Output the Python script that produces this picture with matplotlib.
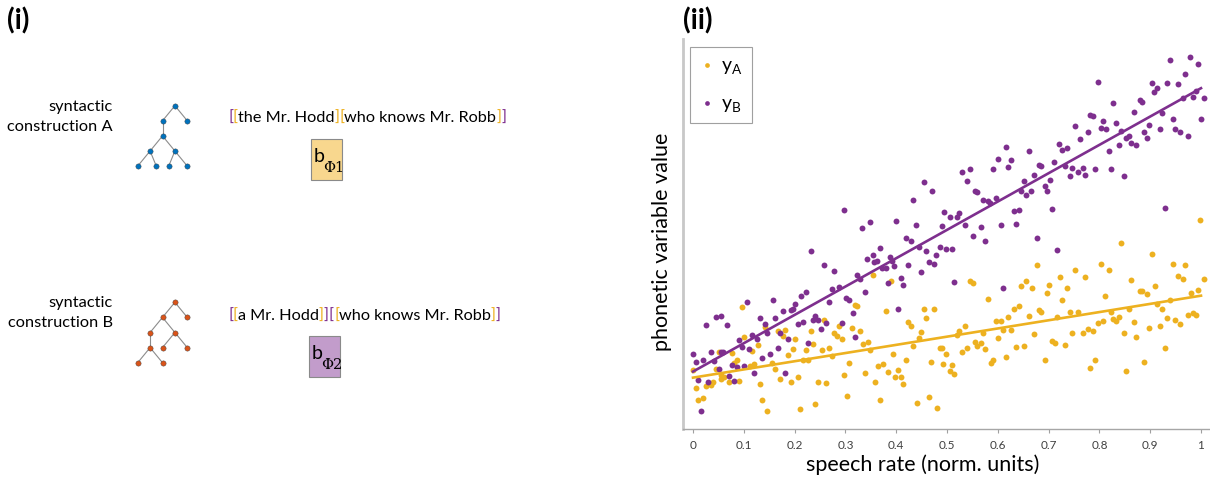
import numpy as np
import matplotlib.pyplot as plt
from matplotlib.offsetbox import TextArea, HPacker, AnnotationBbox
from matplotlib.patches import Rectangle

plt.rcParams['font.family'] = ['Lato', 'DejaVu Sans']
plt.rcParams['mathtext.fontset'] = 'custom'
plt.rcParams['mathtext.rm'] = 'Lato'

PURPLE = '#7E2F8E'
YELLOW = '#EDB120'
BLUE = '#0072BD'
ORANGE = '#D95319'

# speech rate / phonetic value pairs, construction A
rate_a = [0.096, 0.101, 0.142, 0.181, 0.168, 0.177, 0.201, 0.232, 0.236, 0.127, 0.117, 0.051, 0.076, 0.197,
          0.222, 0.187, 0.086, 0.080, 0.120, 0.112, 0.156, 0.162, 0.217, 0.227, 0.000, 0.046, 0.056, 0.062,
          0.056, 0.071, 0.091, 0.040, 0.035, 0.025, 0.005, 0.132, 0.172, 0.192, 0.207, 0.010, 0.020, 0.136,
          0.146, 0.211, 0.240,
          0.354, 0.389, 0.319, 0.323, 0.379, 0.454, 0.474, 0.459, 0.424, 0.429, 0.257, 0.288, 0.278, 0.283,
          0.293, 0.313, 0.328, 0.334, 0.344, 0.449, 0.444, 0.434, 0.486, 0.490, 0.268, 0.253, 0.273, 0.349,
          0.394, 0.419, 0.469, 0.493, 0.308, 0.364, 0.374, 0.384, 0.404, 0.398, 0.409, 0.414, 0.338, 0.298,
          0.358, 0.247, 0.262, 0.303, 0.369, 0.440, 0.465, 0.480,
          0.677, 0.752, 0.722, 0.656, 0.646, 0.667, 0.701, 0.697, 0.737, 0.727, 0.545, 0.551, 0.580, 0.641,
          0.631, 0.682, 0.686, 0.661, 0.621, 0.596, 0.606, 0.717, 0.742, 0.757, 0.535, 0.524, 0.520, 0.571,
          0.611, 0.626, 0.671, 0.747, 0.601, 0.555, 0.566, 0.560, 0.540, 0.530, 0.575, 0.636, 0.651, 0.707,
          0.712, 0.732, 0.499, 0.510, 0.505, 0.514, 0.586, 0.591, 0.616, 0.692,
          0.999, 0.843, 0.904, 0.803, 0.818, 0.772, 0.944, 0.969, 0.954, 0.964, 1.005, 0.863, 0.909, 0.879,
          0.884, 0.894, 0.980, 0.994, 0.812, 0.939, 0.914, 0.858, 0.924, 0.823, 0.838, 0.827, 0.833, 0.869,
          0.797, 0.808, 0.934, 0.949, 0.959, 0.974, 0.985, 0.990, 0.898, 0.919, 0.778, 0.787, 0.767, 0.848,
          0.873, 0.929, 0.792, 0.782, 0.888, 0.853]
val_a = [1.22, 0.92, 1.02, 0.99, 0.98, 0.93, 0.90, 0.98, 0.85, 0.84, 0.78, 0.77, 0.76, 0.80,
         0.79, 0.74, 0.69, 0.66, 0.65, 0.63, 0.66, 0.60, 0.69, 0.69, 0.59, 0.60, 0.54, 0.52,
         0.50, 0.47, 0.48, 0.47, 0.44, 0.43, 0.41, 0.45, 0.50, 0.47, 0.52, 0.29, 0.31, 0.29,
         0.18, 0.20, 0.25,
         1.54, 1.48, 1.24, 1.23, 1.18, 1.20, 1.20, 1.11, 1.07, 1.03, 1.09, 1.03, 0.96, 0.93,
         0.90, 1.01, 0.98, 0.85, 0.87, 0.97, 0.91, 0.83, 0.81, 0.81, 0.81, 0.79, 0.73, 0.79,
         0.75, 0.69, 0.67, 0.65, 0.66, 0.63, 0.65, 0.57, 0.59, 0.52, 0.52, 0.45, 0.56, 0.54,
         0.47, 0.47, 0.46, 0.33, 0.29, 0.26, 0.32, 0.21,
         1.64, 1.59, 1.52, 1.48, 1.43, 1.41, 1.44, 1.36, 1.41, 1.29, 1.48, 1.46, 1.30, 1.23,
         1.20, 1.19, 1.17, 1.13, 1.12, 1.08, 1.08, 1.12, 1.17, 1.17, 1.03, 0.98, 0.94, 0.96,
         0.99, 0.99, 0.95, 0.96, 0.91, 0.87, 0.86, 0.83, 0.81, 0.77, 0.80, 0.82, 0.83, 0.88,
         0.86, 0.84, 0.75, 0.64, 0.58, 0.55, 0.66, 0.69, 0.72, 0.69,
         2.09, 1.86, 1.75, 1.65, 1.59, 1.52, 1.65, 1.64, 1.53, 1.50, 1.50, 1.49, 1.43, 1.38,
         1.38, 1.35, 1.36, 1.39, 1.33, 1.29, 1.25, 1.20, 1.20, 1.17, 1.12, 1.10, 1.08, 1.07,
         1.06, 1.08, 1.11, 1.09, 1.05, 1.14, 1.16, 1.14, 1.01, 1.03, 1.00, 0.98, 0.96, 0.96,
         0.92, 0.81, 0.69, 0.61, 0.67, 0.58]

# speech rate / phonetic value pairs, construction B
rate_b = [0.454, 0.470, 0.434, 0.298, 0.333, 0.348, 0.399, 0.439,
          0.979, 0.939, 0.994, 0.969, 0.798, 0.904, 0.934, 0.954, 0.913, 0.908, 0.990, 0.965, 0.984, 1.005,
          0.879, 0.883, 0.827, 0.868, 0.924, 0.782, 0.788, 0.807, 0.944, 1.000, 0.833, 0.752, 0.803, 0.813,
          0.778, 0.898, 0.919, 0.949, 0.959, 0.974, 0.888, 0.894, 0.843, 0.762, 0.858, 0.852, 0.863, 0.873,
          0.838, 0.818, 0.616, 0.661, 0.721, 0.727, 0.737, 0.600, 0.626, 0.621, 0.591, 0.545, 0.530, 0.540,
          0.681, 0.686, 0.711, 0.732, 0.747, 0.767, 0.757, 0.772, 0.742, 0.792, 0.823, 0.848, 0.671, 0.702,
          0.692, 0.697, 0.651, 0.646, 0.666, 0.656, 0.555, 0.560, 0.596,
          0.570, 0.580, 0.585, 0.495, 0.505, 0.520, 0.524, 0.490, 0.535, 0.566, 0.551, 0.575, 0.606, 0.631,
          0.641, 0.636, 0.677, 0.707, 0.717, 0.929, 0.486, 0.499, 0.510, 0.514, 0.611,
          0.419, 0.429, 0.444, 0.459, 0.479, 0.465, 0.474, 0.424, 0.449, 0.395, 0.409, 0.413, 0.383, 0.403,
          0.388, 0.392, 0.369, 0.362, 0.357, 0.354, 0.343, 0.372, 0.379, 0.323, 0.329, 0.339, 0.232, 0.257,
          0.278, 0.273, 0.288, 0.268, 0.302, 0.308, 0.314, 0.293, 0.222, 0.212, 0.201, 0.192, 0.197, 0.157,
          0.177, 0.161, 0.131, 0.141, 0.146, 0.171, 0.187, 0.207, 0.217, 0.241, 0.236, 0.247, 0.252, 0.262,
          0.318, 0.227, 0.167, 0.152, 0.136, 0.106, 0.091, 0.096, 0.116, 0.125, 0.121, 0.111, 0.101, 0.086,
          0.076, 0.081, 0.071, 0.051, 0.055, 0.060, 0.041, 0.036, 0.045, 0.056, 0.026, 0.066, 0.020, 0.005,
          0.000, 0.010, 0.030, 0.015, 0.182]
val_b = [2.47, 2.38, 2.29, 2.19, 2.01, 2.07, 2.08, 2.04,
         3.72, 3.69, 3.65, 3.55, 3.47, 3.46, 3.46, 3.45, 3.41, 3.37, 3.38, 3.31, 3.32, 3.31,
         3.29, 3.27, 3.26, 3.17, 3.16, 3.14, 3.13, 3.08, 3.10, 3.10, 3.06, 3.03, 3.01, 3.00,
         2.97, 3.04, 3.00, 3.00, 2.97, 2.93, 2.97, 2.91, 2.98, 2.90, 2.93, 2.91, 2.86, 2.84,
         2.84, 2.78, 2.82, 2.78, 2.85, 2.79, 2.81, 2.70, 2.69, 2.62, 2.60, 2.60, 2.57, 2.48,
         2.64, 2.63, 2.67, 2.63, 2.61, 2.61, 2.57, 2.54, 2.53, 2.60, 2.60, 2.53, 2.54, 2.49,
         2.43, 2.38, 2.48, 2.38, 2.38, 2.34, 2.38, 2.37, 2.31,
         2.29, 2.28, 2.26, 2.17, 2.12, 2.12, 2.16, 2.03, 2.04, 2.02, 1.93, 1.88, 2.04, 2.18,
         2.19, 2.05, 1.91, 2.20, 1.79, 2.21, 1.82, 1.80, 1.80, 1.47, 1.41,
         1.91, 1.88, 1.82, 1.78, 1.74, 1.67, 1.65, 1.64, 1.57, 1.63, 1.51, 1.44, 1.46, 1.20,
         1.72, 1.68, 1.81, 1.68, 1.67, 1.74, 1.70, 1.61, 1.61, 1.54, 1.50, 1.37, 1.78, 1.64,
         1.58, 1.40, 1.42, 1.27, 1.31, 1.29, 1.16, 1.06, 1.37, 1.33, 1.25, 1.19, 1.20, 1.29,
         1.18, 1.11, 1.11, 1.05, 0.96, 0.96, 0.90, 1.05, 1.07, 1.13, 1.09, 1.09, 1.00, 1.06,
         0.92, 0.86, 0.81, 0.75, 0.71, 1.27, 0.89, 0.82, 0.94, 0.90, 0.56, 0.80, 0.63, 0.62,
         0.64, 0.48, 0.53, 0.60, 0.77, 0.77, 0.68, 0.77, 1.12, 1.13, 1.04, 1.04, 0.69, 0.67,
         0.75, 0.49, 0.47, 0.18, 0.56]

x_ticks = [0, 0.1, 0.2, 0.3, 0.4, 0.5, 0.6, 0.7, 0.8, 0.9, 1]
x_tick_labels = ['0', '0.1', '0.2', '0.3', '0.4', '0.5', '0.6', '0.7', '0.8', '0.9', '1']

# trees as (column, depth) nodes plus parent->child edges
tree_a_nodes = [(3, 0), (2, 1), (4, 1), (2, 2), (1, 3), (3, 3), (0, 4), (1.5, 4), (2.5, 4), (4, 4)]
tree_a_edges = [(0, 1), (0, 2), (1, 3), (3, 4), (3, 5), (4, 6), (4, 7), (5, 8), (5, 9)]
tree_b_nodes = [(3, 0), (2, 1), (4, 1), (1, 2), (3, 2), (1, 3), (2, 3), (4, 3), (0, 4), (2, 4)]
tree_b_edges = [(0, 1), (0, 2), (1, 3), (1, 4), (3, 5), (4, 6), (4, 7), (5, 8), (5, 9)]

W, H = 1210, 481
fig = plt.figure(figsize=(W / 100, H / 100), dpi=100)

# ---- panel (i): drawn on a full-figure overlay in pixel units ----
diag = fig.add_axes([0, 0, 1, 1])
diag.set_xlim(0, W)
diag.set_ylim(H, 0)
diag.axis('off')

diag.text(7, 21, '(i)', fontsize=20, fontweight='bold', ha='left', va='center')
diag.text(683, 21, '(ii)', fontsize=20, fontweight='bold', ha='left', va='center')

for label, yc in [('syntactic\nconstruction A', 117), ('syntactic\nconstruction B', 313)]:
    diag.text(113, yc, label, fontsize=11.8, ha='right', va='center', ma='right', linespacing=1.5)


def draw_tree(nodes, edges, x0, y0, color, dx=12.4, dy=15.1):
    xs = [x0 + c * dx for c, d in nodes]
    ys = [y0 + d * dy for c, d in nodes]
    for p, q in edges:
        diag.plot([xs[p], xs[q]], [ys[p], ys[q]], color='#8c8c8c', lw=0.8, zorder=1)
    diag.plot(xs, ys, 'o', ms=3.8, color=color, mec='#404040', mew=0.3, zorder=2)


draw_tree(tree_a_nodes, tree_a_edges, 137.7, 106.7, BLUE)
draw_tree(tree_b_nodes, tree_b_edges, 137.7, 303.3, ORANGE)


def bracket_line(parts, x, y):
    boxes = [TextArea(s, textprops=dict(color=c, fontsize=11.7)) for s, c in parts]
    pack = HPacker(children=boxes, align='baseline', pad=0, sep=0)
    ab = AnnotationBbox(pack, (x, y), xycoords='data', box_alignment=(0, 0.5),
                        frameon=False, pad=0)
    diag.add_artist(ab)


bracket_line([('[', PURPLE), ('[', YELLOW), ('the Mr. Hodd', 'black'), (']', YELLOW),
              ('[', YELLOW), ('who knows Mr. Robb', 'black'), (']', YELLOW), (']', PURPLE)],
             228, 118)
bracket_line([('[', PURPLE), ('[', YELLOW), ('a Mr. Hodd', 'black'), (']', YELLOW), (']', PURPLE),
              ('[', PURPLE), ('[', YELLOW), ('who knows Mr. Robb', 'black'), (']', YELLOW), (']', PURPLE)],
             228, 316)

for (bx, by, fill, idx) in [(310.7, 140, '#F8D78E', '1'), (309, 337.3, '#C29CCB', '2')]:
    diag.add_patch(Rectangle((bx, by), 31.3, 41, facecolor=fill, edgecolor='#8a8a8a', lw=0.8))
    diag.text(bx + 2.5, by + 22, 'b', fontsize=14, ha='left', va='baseline')
    diag.text(bx + 12.5, by + 32, '\u03a6' + idx, fontsize=10.5, family='DejaVu Serif',
              ha='left', va='baseline')

# ---- panel (ii): phonetic variable vs speech rate ----
ax = fig.add_axes([683 / W, 1 - 430 / H, 527 / W, 390 / H])
ax.set_facecolor('none')
ax.scatter(rate_a, val_a, s=18, color=YELLOW, linewidths=0, label=r'y$_\mathregular{A}$', zorder=2)
ax.scatter(rate_b, val_b, s=18, color=PURPLE, linewidths=0, label=r'y$_\mathregular{B}$', zorder=2)

grid = np.array([0.0, 1.0])
for r, v, c in [(rate_a, val_a, YELLOW), (rate_b, val_b, PURPLE)]:
    slope, icpt = np.polyfit(r, v, 1)
    ax.plot(grid, icpt + slope * grid, color=c, lw=1.9, zorder=3)

ax.set_xlim(-10 / 508, 517 / 508)
ax.set_ylim(0, 3.9)
ax.set_xticks(x_ticks)
ax.set_xticklabels(x_tick_labels, fontsize=8.5, color='#404040')
ax.set_yticks([])
ax.tick_params(axis='x', direction='out', length=3, width=0.8, color='#a0a0a0', pad=4)
for side in ['top', 'right']:
    ax.spines[side].set_visible(False)
ax.spines['left'].set_color('#c8c8c8')
ax.spines['left'].set_linewidth(2)
ax.spines['bottom'].set_color('#a6a6a6')
ax.spines['bottom'].set_linewidth(1)

ax.text(0.454, -0.09, 'speech rate (norm. units)', transform=ax.transAxes,
        fontsize=15.5, ha='center', va='center')
ax.text(-0.04, 0.482, 'phonetic variable value', transform=ax.transAxes,
        fontsize=15.5, ha='center', va='center', rotation=90)

leg = ax.legend(loc='upper left', bbox_to_anchor=(0.013, 0.98), borderaxespad=0,
                fontsize=14, fancybox=False, edgecolor='#a0a0a0', framealpha=1,
                handletextpad=0.3, labelspacing=0.95, borderpad=0.5, handlelength=0.8,
                markerscale=0.8)
leg.get_frame().set_linewidth(0.8)

fig.savefig('out.png', dpi=100)
